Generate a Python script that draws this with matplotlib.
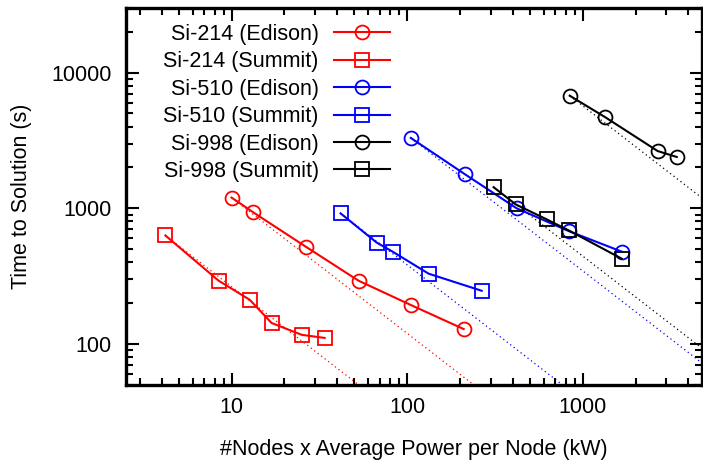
import matplotlib
matplotlib.use("Agg")
import matplotlib.pyplot as plt
import numpy as np
from matplotlib.ticker import LogLocator, FixedLocator, NullFormatter

plt.rcParams['font.family'] = ['Liberation Sans', 'DejaVu Sans']

# power (kW) and time to solution (s)
si214_edison_x = [10, 13.3, 26.4, 52.9, 105, 210]
si214_edison_y = [1200, 934, 523, 293, 194, 129]
si214_summit_x = [4.2, 8.44, 12.7, 16.9, 25.1, 33.9]
si214_summit_y = [631, 293, 212, 143, 117, 111]
si510_edison_x = [105, 213, 421, 832, 1667]
si510_edison_y = [3300, 1786, 1000, 680, 480]
si510_summit_x = [41.8, 67, 82.6, 132.6, 266]
si510_summit_y = [918, 560, 480, 330, 247]
si998_edison_x = [843, 1334, 2673, 3435]
si998_edison_y = [6760, 4720, 2643, 2390]
si998_summit_x = [311, 415, 624, 832, 1667]
si998_summit_y = [1431, 1070, 829, 688, 426]

series = [
    ("Si-214 (Edison)", si214_edison_x, si214_edison_y, "#ff0000", "o"),
    ("Si-214 (Summit)", si214_summit_x, si214_summit_y, "#ff0000", "s"),
    ("Si-510 (Edison)", si510_edison_x, si510_edison_y, "#0000ff", "o"),
    ("Si-510 (Summit)", si510_summit_x, si510_summit_y, "#0000ff", "s"),
    ("Si-998 (Edison)", si998_edison_x, si998_edison_y, "#000000", "o"),
    ("Si-998 (Summit)", si998_summit_x, si998_summit_y, "#000000", "s"),
]

xmin, xmax = 2.5, 4800
ymin, ymax = 50, 30000
fs = 15.5

fig = plt.figure(figsize=(7.03, 4.61), dpi=100)
ax = fig.add_axes([0.179, 0.165, 0.82, 0.818])
ax.set_xscale('log')
ax.set_yscale('log')

for label, x, y, c, m in series:
    # ideal scaling line from first point
    xs = np.array([x[0], xmax * 2])
    ax.plot(xs, y[0] * x[0] / xs, color=c, lw=0.9, ls=(0, (1, 2.5)), zorder=1)
for label, x, y, c, m in series:
    ax.plot(x, y, color=c, lw=1.5, marker=m, markersize=10,
            markerfacecolor='none', markeredgewidth=1.3, label=label, zorder=3)

ax.set_xlim(xmin, xmax)
ax.set_ylim(ymin, ymax)

ax.xaxis.set_major_locator(FixedLocator([10, 100, 1000]))
ax.xaxis.set_minor_locator(LogLocator(base=10, subs=np.arange(2, 10)))
ax.xaxis.set_minor_formatter(NullFormatter())
ax.set_xticklabels(['10', '100', '1000'])
ax.yaxis.set_major_locator(FixedLocator([100, 1000, 10000]))
ax.yaxis.set_minor_locator(LogLocator(base=10, subs=np.arange(2, 10)))
ax.yaxis.set_minor_formatter(NullFormatter())
ax.set_yticklabels(['100', '1000', '10000'])

ax.tick_params(which='both', direction='in', top=True, right=True,
               labelsize=fs, width=1.5)
ax.tick_params(which='major', length=9)
ax.tick_params(axis='y', which='major', pad=10)
ax.tick_params(axis='x', which='major', pad=9)
ax.tick_params(which='minor', length=5)
for s in ax.spines.values():
    s.set_linewidth(2.4)

ax.set_xlabel('#Nodes x Average Power per Node (kW)', fontsize=fs, labelpad=15)
ax.set_ylabel('Time to Solution (s)', fontsize=fs, labelpad=14)

leg = ax.legend(loc='upper right', bbox_to_anchor=(0.458, 0.958),
                markerfirst=False, frameon=False, fontsize=15.5,
                handlelength=2.6, handletextpad=0.7, labelspacing=0.3,
                borderpad=0, borderaxespad=0)

fig.savefig('out.png', dpi=100)
